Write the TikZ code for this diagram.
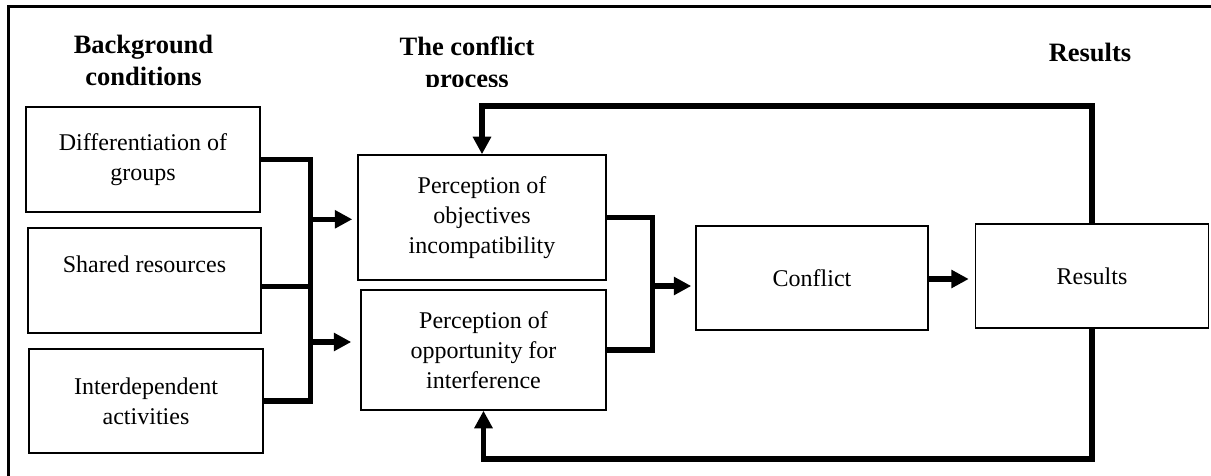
\documentclass[tikz,border=0pt]{standalone}
\usepackage{fontspec}
\setmainfont{Liberation Serif}
\usetikzlibrary{arrows.meta,calc}
\begin{document}
\begin{tikzpicture}[x=1pt,y=-1pt,
  box/.style={draw, line width=1.5pt, inner sep=0pt, align=center,
    font=\fontsize{24}{30}\selectfont},
  boxtext/.style={inner sep=0pt, font=\fontsize{24}{30}\selectfont},
  head/.style={inner sep=0pt, align=center, font=\fontsize{26.5}{32}\selectfont\bfseries},
  conn/.style={line width=5.5pt},
  arr/.style={line width=5.5pt, -{Triangle[length=17.5pt,width=17.5pt]}}]
\useasboundingbox (0,0) rectangle (1211,476);
% frame
\draw[line width=3pt] (8.5,476) -- (8.5,6.5) -- (1211,6.5);
% headers
\node[head, anchor=north] (hbg) at (143.5,34.7) {Background\\conditions};
\begin{scope}
  \clip (330,0) rectangle (600,86.7);
  \node[head, anchor=north] (hproc) at (467,36.7) {The conflict\\process};
\end{scope}
\node[head, anchor=base] (hres) at (1090,62) {Results};
% boxes
\node[box, minimum width=234pt, minimum height=105pt] (b1) at (143,159.5) {Differentiation of\\groups};
\node[box, minimum width=233pt, minimum height=105pt] (b2) at (144.5,280.5) {};
\node[boxtext, anchor=base] (b2t) at (144.5,272) {Shared resources};
\node[box, minimum width=234pt, minimum height=104pt] (b3) at (146,401) {Interdependent\\activities};
\node[box, minimum width=248pt, minimum height=125pt] (b4) at (482,217.5) {Perception of\\objectives\\incompatibility};
\node[box, minimum width=245pt, minimum height=120pt] (b5) at (483.5,350) {Perception of\\opportunity for\\interference};
\node[box, minimum width=232pt, minimum height=104pt] (b6) at (812,278) {Conflict};
\node[box, minimum width=233pt, minimum height=104pt] (b7) at (1092,276) {Results};
% buses
\coordinate (bus1) at (310.5,0);
\coordinate (bus2) at (652.5,0);
\draw[conn] (b1.east) -| (bus1 |- b3.east) -- (b3.east);
\coordinate (b2o) at ([yshift=-6pt]b2.east);
\draw[conn] (b2o) -- (b2o -| bus1);
\coordinate (a4) at ([yshift=-1.8pt,xshift=-5pt]b4.west);
\draw[arr] (a4 -| bus1) -- (a4);
\coordinate (a5) at ([yshift=8pt,xshift=-9pt]b5.west);
\draw[arr] (a5 -| bus1) -- (a5);
\draw[conn] (b4.east) -| (bus2 |- b5.east) -- (b5.east);
\coordinate (a6) at ([yshift=-8pt,xshift=-4pt]b6.west);
\draw[arr] (a6 -| bus2) -- (a6);
\coordinate (a7) at ([yshift=-3pt,xshift=-6pt]b7.west);
\draw[arr] (a7 -| b6.east) -- (a7);
% feedback loops
\draw[arr] (b7.north) |- ($(b4.north)+(0,-48)$) -- (b4.north);
\draw[arr] (b7.south) |- ($(b5.south)+(0,48)$) -- (b5.south);
\end{tikzpicture}
\end{document}
